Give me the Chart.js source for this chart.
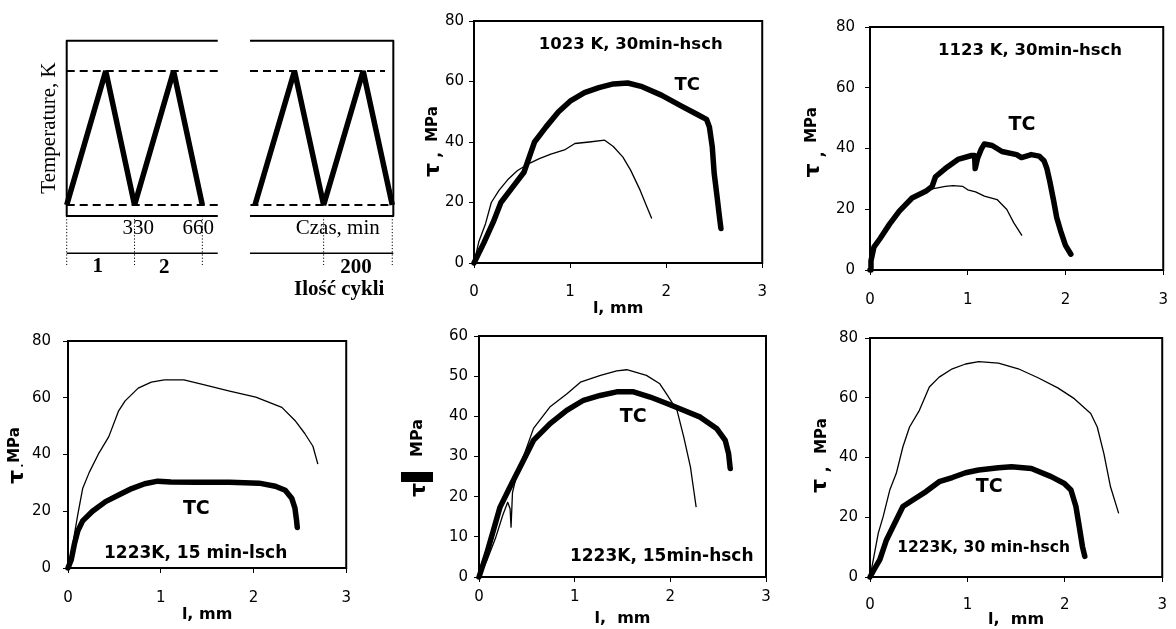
<!DOCTYPE html>
<html><head><meta charset="utf-8">
<script src="https://cdn.jsdelivr.net/npm/chart.js@4.4.0/dist/chart.umd.min.js"></script>
<style>
html,body{margin:0;padding:0;background:#fff;width:1176px;height:629px;overflow:hidden;position:relative}
canvas{position:absolute}
</style></head><body>
<canvas id="s1"></canvas><canvas id="s2"></canvas>
<canvas id="c1"></canvas><canvas id="c2"></canvas>
<canvas id="c3"></canvas><canvas id="c4"></canvas><canvas id="c5"></canvas>
<script>
// ---------- tick values ----------
const xTickValues = [0, 1, 2, 3];
const yTicks80 = [0, 20, 40, 60, 80];
const yTicks60 = [0, 10, 20, 30, 40, 50, 60];

// ---------- panel labels ----------
const panelTitles = ['1023 K, 30min-hsch', '1123 K, 30min-hsch', '1223K, 15 min-lsch', '1223K, 15min-hsch', '1223K, 30 min-hsch'];
const curveLabel = 'TC';

// ---------- panel 1 : 1023 K, 30min-hsch ----------
const p1ThinX = [0, 0.05, 0.12, 0.18, 0.26, 0.35, 0.45, 0.55, 0.68, 0.8, 0.95, 1.05, 1.2, 1.36, 1.45, 1.55, 1.63, 1.73, 1.8, 1.85];
const p1ThinY = [0, 7, 13, 20, 24, 27.5, 30.5, 32.5, 34.5, 36, 37.5, 39.5, 40, 40.6, 38.5, 35, 30.7, 24, 18.5, 14.7];
const p1TcX = [0, 0.1, 0.2, 0.28, 0.4, 0.52, 0.63, 0.75, 0.88, 1.0, 1.15, 1.3, 1.45, 1.6, 1.75, 1.95, 2.15, 2.33, 2.42, 2.45, 2.48, 2.5, 2.53, 2.555, 2.57];
const p1TcY = [0, 6.5, 13.5, 20, 25, 30, 40, 45, 50, 53.5, 56.3, 58, 59.2, 59.5, 58.3, 55.5, 52, 49, 47.5, 45, 38.4, 29.6, 21.9, 15.2, 11.4];

// ---------- panel 2 : 1123 K, 30min-hsch ----------
const p2ThinX = [0, 0.01, 0.04, 0.1, 0.2, 0.3, 0.43, 0.55, 0.65, 0.77, 0.85, 0.95, 1.0, 1.08, 1.17, 1.3, 1.4, 1.47, 1.555];
const p2ThinY = [0, 3, 7.5, 10.2, 15.1, 19.4, 23.7, 25.9, 26.8, 27.5, 27.8, 27.5, 26.4, 25.7, 24.3, 23.2, 19.9, 15.6, 11.3];
const p2TcX = [0, 0.01, 0.04, 0.1, 0.2, 0.3, 0.43, 0.57, 0.635, 0.67, 0.77, 0.9, 1.04, 1.07, 1.076, 1.1, 1.14, 1.17, 1.25, 1.35, 1.5, 1.55, 1.65, 1.73, 1.78, 1.81, 1.84, 1.88, 1.91, 1.95, 2.0, 2.055];
const p2TcY = [0, 3, 7.5, 10.2, 15.1, 19.4, 23.7, 25.9, 27.5, 30.7, 33.4, 36.4, 37.7, 37.7, 33.4, 36.7, 39.9, 41.5, 41, 39, 38, 37, 38, 37.5, 36, 33.4, 29.1, 22.6, 17.3, 12.9, 8.1, 5.2];

// ---------- panel 3 : 1223K, 15 min-lsch ----------
const p3ThinX = [0, 0.035, 0.07, 0.106, 0.158, 0.229, 0.335, 0.44, 0.546, 0.616, 0.757, 0.898, 1.039, 1.25, 1.461, 1.743, 2.025, 2.306, 2.447, 2.553, 2.641, 2.694];
const p3ThinY = [0, 5.1, 12, 18.9, 28, 33.7, 40.6, 46.3, 55.4, 58.9, 63.4, 65.5, 66.3, 66.3, 64.6, 62.3, 60.2, 56.6, 52, 47.4, 42.9, 36.6];
const p3TcX = [0, 0.035, 0.07, 0.106, 0.158, 0.264, 0.405, 0.546, 0.687, 0.827, 0.968, 1.109, 1.391, 1.743, 2.06, 2.236, 2.342, 2.412, 2.447, 2.465, 2.472];
const p3TcY = [0, 2.9, 8.6, 13.1, 16.6, 20, 23.4, 25.7, 28, 29.7, 30.6, 30.3, 30.2, 30.2, 29.9, 28.8, 27.4, 24.6, 21.1, 16.6, 14.3];

// ---------- panel 4 : 1223K, 15min-hsch ----------
const p4ThinX = [0, 0.08, 0.17, 0.25, 0.3, 0.325, 0.335, 0.35, 0.4, 0.48, 0.57, 0.74, 0.92, 1.06, 1.27, 1.44, 1.545, 1.75, 1.89, 1.96, 2.07, 2.14, 2.21, 2.24, 2.27];
const p4ThinY = [0, 4, 9.5, 15.5, 18.6, 17, 12.4, 21, 26, 31, 37, 42.3, 45.6, 48.5, 50.2, 51.3, 51.6, 50.2, 48.1, 45.6, 41.5, 34.9, 27.4, 22.4, 17.4];
const p4TcX = [0, 0.08, 0.15, 0.22, 0.324, 0.464, 0.569, 0.743, 0.917, 1.092, 1.266, 1.44, 1.615, 1.789, 1.964, 2.138, 2.313, 2.487, 2.574, 2.609, 2.626];
const p4TcY = [0, 5.8, 11.6, 17.4, 22.4, 29, 34, 38.2, 41.5, 44, 45.2, 46.1, 46.1, 44.8, 43.2, 41.5, 39.8, 36.9, 34, 30.7, 27];

// ---------- panel 5 : 1223K, 30 min-hsch ----------
const p5ThinX = [0, 0.034, 0.085, 0.135, 0.203, 0.27, 0.338, 0.406, 0.507, 0.609, 0.71, 0.845, 0.981, 1.116, 1.319, 1.522, 1.725, 1.928, 2.097, 2.266, 2.333, 2.401, 2.469, 2.553];
const p5ThinY = [0, 5.8, 14.7, 20.2, 29.1, 34.7, 43.6, 50.2, 55.8, 63.6, 66.9, 69.7, 71.3, 72.1, 71.6, 69.7, 66.7, 63.3, 59.7, 54.7, 50.2, 41.3, 30.2, 21.3];
const p5TcX = [0, 0.051, 0.101, 0.169, 0.237, 0.338, 0.44, 0.575, 0.71, 0.845, 0.981, 1.116, 1.319, 1.454, 1.657, 1.86, 1.995, 2.063, 2.114, 2.148, 2.181, 2.205];
const p5TcY = [0, 3, 5.8, 12.4, 16.9, 23.6, 25.8, 28.6, 31.9, 33.3, 34.9, 35.8, 36.6, 36.9, 36.3, 33.6, 31.3, 29.1, 23.6, 16.9, 10.2, 6.9];

// ---------- schematic: thermal cycles (time in min, temperature level 0=low 1=high) ----------
const cycleTimesStart = [0, 190, 330, 520, 660];
const cycleTimesEnd = [65340, 65530, 65670, 65860, 66000];
const cycleTemps = [0, 1, 0, 1, 0];
const cycleBoundsStart = [0, 330, 660];
const cycleBoundsEnd = [65670, 66000];
const timeLabels = ['330', '660'];
const cycleLabels = ['1', '2', '200'];

Chart.defaults.font.family = "'DejaVu Sans', sans-serif";
Chart.defaults.color = '#000';

const SANS = '"DejaVu Sans", sans-serif';
const SERIF = '"Liberation Serif", serif';

function textPlugin(items, rects, frame) {
  return {
    id: 'txt',
    afterDatasetsDraw(chart) {
      const ctx = chart.ctx;
      const ox = parseFloat(chart.canvas.style.left), oy = parseFloat(chart.canvas.style.top);
      if (frame) {
        const a = chart.chartArea;
        ctx.save(); ctx.strokeStyle = '#000'; ctx.lineWidth = 2;
        ctx.strokeRect(a.left, a.top, a.right - a.left, a.bottom - a.top);
        ctx.restore();
      }
      items.forEach(it => {
        let px, py;
        if (it.page) { px = it.page[0] - ox; py = it.page[1] - oy; }
        else { px = chart.scales.x.getPixelForValue(it.x); py = chart.scales.y.getPixelForValue(it.y); }
        ctx.save();
        ctx.translate(px, py);
        if (it.rot) ctx.rotate(it.rot * Math.PI / 180);
        ctx.font = it.font; ctx.fillStyle = '#000';
        ctx.textAlign = 'center'; ctx.textBaseline = 'middle';
        ctx.fillText(it.text, 0, 0);
        ctx.restore();
      });
      (rects || []).forEach(r => { ctx.fillStyle = '#000'; ctx.fillRect(r[0] - ox, r[1] - oy, r[2], r[3]); });
    }
  };
}

function line(xs, ys, w, dash) {
  return { data: xs.map((v, i) => ({ x: v, y: ys[i] })), showLine: true, borderColor: '#000', borderWidth: w,
    borderDash: dash || [], pointRadius: 0, tension: 0, fill: false, clip: false,
    borderJoinStyle: 'round', borderCapStyle: 'butt' };
}

function panel(p) {
  const [L, T, R, B] = p.rect;
  const W = R - L, H = B - T, padT = 15, padR = 15, xh = 60;
  const cv = document.getElementById(p.id);
  cv.width = W + p.yw + padR; cv.height = H + padT + xh;
  cv.style.left = (L - p.yw) + 'px'; cv.style.top = (T - padT) + 'px';
  const thin = line(p.thin[0], p.thin[1], 1.3);
  const thick = line(p.thick[0], p.thick[1], 5.5);
  thick.borderJoinStyle = 'round'; thick.borderCapStyle = 'round';
  new Chart(cv, {
    type: 'scatter',
    data: { datasets: [thin, thick] },
    options: {
      responsive: false, animation: false, events: [],
      layout: { padding: { left: 0, top: padT, right: padR, bottom: 0 } },
      plugins: { legend: { display: false }, tooltip: { enabled: false } },
      scales: {
        x: {
          type: 'linear', min: 0, max: 3,
          afterBuildTicks: s => { s.ticks = xTickValues.map(v => ({ value: v })); },
          afterFit: s => { s.height = xh; },
          grid: { drawOnChartArea: false, drawTicks: true, tickLength: 5, color: '#000' },
          border: { display: true, color: '#000', width: 2 },
          ticks: { padding: p.xpad, font: { size: 15 }, color: '#000', maxRotation: 0 },
          title: p.xtitle ? { display: true, text: p.xtitle, color: '#000', font: { size: 16, weight: 'bold' }, padding: { top: 0, bottom: p.xtpad } } : { display: false }
        },
        y: {
          type: 'linear', min: 0, max: p.yMax,
          afterBuildTicks: s => { s.ticks = p.yTicks.map(v => ({ value: v })); },
          afterFit: s => { s.width = p.yw; },
          grid: { drawOnChartArea: false, drawTicks: true, tickLength: 5, color: '#000' },
          border: { display: true, color: '#000', width: 2 },
          ticks: { padding: p.ypad, font: { size: 15 }, color: '#000' }
        }
      }
    },
    plugins: [textPlugin(p.texts, p.rects, true)]
  });
}

const B15 = 'bold 15px ' + SANS, TAU = 'bold 22px ' + SANS;
const panels = [
  { id: 'c1', rect: [474, 21, 767, 263], yw: 70, yMax: 80, yTicks: yTicks80, thin: [p1ThinX, p1ThinY], thick: [p1TcX, p1TcY],
    xpad: 15, ypad: 5, xtitle: 'l, mm', xtpad: 5,
    texts: [
      { x: 1.631, y: 72.3, text: panelTitles[0], font: 'bold 16.5px ' + SANS },
      { x: 2.219, y: 58.8, text: curveLabel, font: 'bold 18px ' + SANS },
      { page: [433, 170], rot: -90, text: 'τ', font: TAU },
      { page: [437, 155], rot: -90, text: ',', font: B15 },
      { page: [433, 124], rot: -90, text: 'MPa', font: B15 }
    ] },
  { id: 'c2', rect: [870, 23, 1169, 270], yw: 70, yMax: 80, yTicks: yTicks80, thin: [p2ThinX, p2ThinY], thick: [p2TcX, p2TcY],
    xpad: 16, ypad: 10, xtitle: null,
    texts: [
      { x: 1.638, y: 72.3, text: panelTitles[1], font: 'bold 16.5px ' + SANS },
      { x: 1.555, y: 47.7, text: curveLabel, font: 'bold 19px ' + SANS },
      { page: [813, 170.5], rot: -90, text: 'τ', font: TAU },
      { page: [820, 154.5], rot: -90, text: ',', font: B15 },
      { page: [812, 125], rot: -90, text: 'MPa', font: B15 }
    ] },
  { id: 'c3', rect: [68, 335, 352, 568], yw: 64, yMax: 80, yTicks: yTicks80, thin: [p3ThinX, p3ThinY], thick: [p3TcX, p3TcY],
    xpad: 16, ypad: 12, xtitle: 'l, mm', xtpad: 4,
    texts: [
      { x: 1.376, y: 5.05, text: panelTitles[2], font: 'bold 17px ' + SANS },
      { x: 1.384, y: 20.7, text: curveLabel, font: 'bold 19px ' + SANS },
      { page: [17, 477], rot: -90, text: 'τ', font: TAU },
      { page: [20, 465.5], rot: -90, text: '.', font: 'bold 10px ' + SANS },
      { page: [15.5, 445], rot: -90, text: 'MPa', font: B15 }
    ] },
  { id: 'c4', rect: [479, 336, 766, 577], yw: 82, yMax: 60, yTicks: yTicks60, thin: [p4ThinX, p4ThinY], thick: [p4TcX, p4TcY],
    xpad: 6, ypad: 6, xtitle: 'l,  mm', xtpad: 9,
    texts: [
      { x: 1.91, y: 5.05, text: panelTitles[3], font: 'bold 17px ' + SANS },
      { x: 1.613, y: 39.8, text: curveLabel, font: 'bold 19px ' + SANS },
      { page: [419, 490], rot: -90, text: 'τ', font: TAU },
      { page: [417.5, 438], rot: -90, text: 'MPa', font: 'bold 16px ' + SANS }
    ],
    rects: [[401, 472, 32, 10]] },
  { id: 'c5', rect: [870, 337, 1166, 577], yw: 70, yMax: 80, yTicks: yTicks80, thin: [p5ThinX, p5ThinY], thick: [p5TcX, p5TcY],
    xpad: 14, ypad: 7, xtitle: 'l,  mm', xtpad: 8,
    texts: [
      { x: 1.166, y: 9.6, text: panelTitles[4], font: 'bold 15.5px ' + SANS },
      { x: 1.223, y: 30.1, text: curveLabel, font: 'bold 19px ' + SANS },
      { page: [820, 486], rot: -90, text: 'τ', font: TAU },
      { page: [825, 469.5], rot: -90, text: ',', font: B15 },
      { page: [822, 436], rot: -90, text: 'MPa', font: B15 }
    ] }
];
panels.forEach(panel);

// ---------- schematic ----------
const boxTop = 1.226, boxBottom = -0.082, cycAxis = -0.36, cycTick = -0.448;
function schem(id, left, width, xmin, xmax, datasets, texts) {
  const cv = document.getElementById(id);
  cv.width = width; cv.height = 300;
  cv.style.left = left + 'px'; cv.style.top = '0px';
  new Chart(cv, {
    type: 'scatter',
    data: { datasets },
    options: {
      responsive: false, animation: false, events: [],
      layout: { padding: 0 },
      plugins: { legend: { display: false }, tooltip: { enabled: false } },
      scales: { x: { type: 'linear', display: false, min: xmin, max: xmax }, y: { type: 'linear', display: false, min: -0.709, max: 1.53 } }
    },
    plugins: [textPlugin(texts, null, false)]
  });
}
const wave1 = line(cycleTimesStart, cycleTemps, 5.5); wave1.borderJoinStyle = 'bevel';
const wave2 = line(cycleTimesEnd, cycleTemps, 5.5); wave2.borderJoinStyle = 'bevel';
const brkA = 735, brkB = 65316, endB = 66005;
schem('s1', 0, 236, -324.6, 823.8, [
  line([brkA, 0, 0, brkA], [boxTop, boxTop, boxBottom, boxBottom], 2),
  line([0, brkA], [1, 1], 2, [8, 5]),
  line([0, brkA], [0, 0], 2, [8, 5]),
  wave1,
  line([0, brkA], [cycAxis, cycAxis], 1.5),
  ...cycleBoundsStart.map(t => line([t, t], [boxBottom, cycTick], 1, [1.2, 2]))
], [
  { x: 348, y: -0.174, text: timeLabels[0], font: '21px ' + SERIF },
  { x: 640, y: -0.172, text: timeLabels[1], font: '21px ' + SERIF },
  { x: 151, y: -0.46, text: cycleLabels[0], font: 'bold 21px ' + SERIF },
  { x: 475, y: -0.47, text: cycleLabels[1], font: 'bold 21px ' + SERIF },
  { x: -85, y: 0.575, rot: -90, text: 'Temperature, K', font: '21px ' + SERIF }
]);
schem('s2', 236, 174, 65248.7, 66085.2, [
  line([brkB, endB, endB, brkB], [boxTop, boxTop, boxBottom, boxBottom], 2),
  line([brkB, 65965], [1, 1], 2, [8, 5]),
  line([brkB + 2, endB], [0, 0], 2, [8, 5]),
  wave2,
  line([brkB, endB], [cycAxis, cycAxis], 1.5),
  ...cycleBoundsEnd.map(t => line([t, t], [boxBottom, cycTick], 1, [1.2, 2]))
], [
  { x: 65738, y: -0.172, text: 'Czas, min', font: '21px ' + SERIF },
  { x: 65826, y: -0.465, text: cycleLabels[2], font: 'bold 21px ' + SERIF },
  { x: 65745, y: -0.634, text: 'Ilość cykli', font: 'bold 21px ' + SERIF }
]);
</script>
</body></html>
